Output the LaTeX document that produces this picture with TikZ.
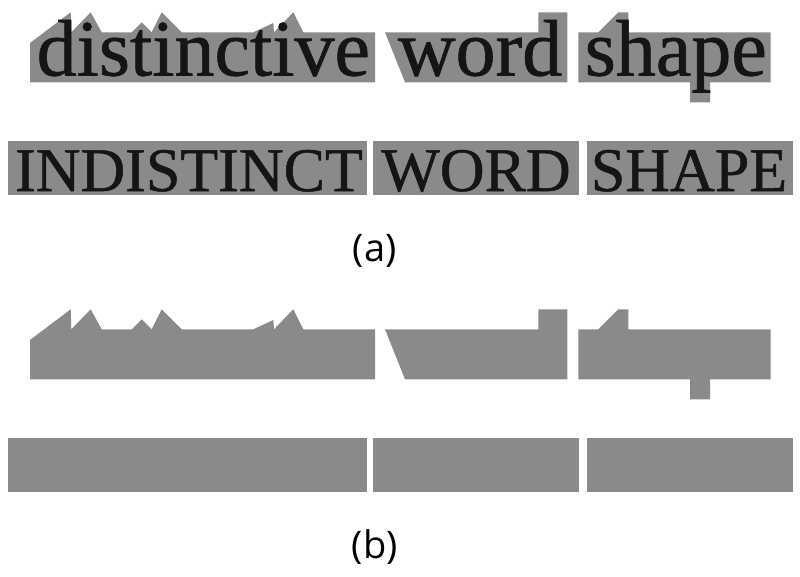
\documentclass[tikz,border=0pt]{standalone}
\usepackage{fontspec}
\setmainfont{Liberation Serif}
\newfontfamily\heavyserif{Liberation Serif}[FakeBold=0.8]
\newfontfamily\labfont{Open Sans}
\definecolor{shapegray}{HTML}{8A8A8A}
\definecolor{inkdark}{HTML}{151515}
\tikzset{
  shapefill/.style={fill=shapegray, draw=none},
  lowword/.style={inner sep=0pt, anchor=base, text=inkdark, font=\heavyserif\fontsize{80}{80}\selectfont},
  capword/.style={inner sep=0pt, anchor=base, text=inkdark, font=\heavyserif\fontsize{62}{62}\selectfont},
  panellabel/.style={inner sep=0pt, anchor=base, text=black, font=\labfont\fontsize{38}{38}\selectfont}
}
\begin{document}
\begin{tikzpicture}[x=1pt,y=-1pt]
\useasboundingbox (0,0) rectangle (800,576);
% ---------- word-shape silhouettes, panel (a) and copy in panel (b) ----------
\foreach \dy in {0,297}{
  \begin{scope}[shift={(0,\dy)}]
    % distinctive
    \fill[shapefill] (30,82.3) -- (30,43) -- (70.7,12.3) -- (71.3,32.3) -- (90.7,12.3) -- (101.7,32.3)
      -- (131.7,32.3) -- (141.7,22.3) -- (151.7,32.3) -- (161.7,12.3) -- (181.7,32.3)
      -- (253.3,32.3) -- (273.3,23) -- (274,32.3) -- (293.3,12.3) -- (303.3,32.3)
      -- (375,32.3) -- (375,82.3) -- cycle;
    % word
    \fill[shapefill] (385,32.3) -- (405,82.3) -- (567.3,82.3) -- (567.3,12.3) -- (538.3,12.3)
      -- (538.3,32.3) -- cycle;
    % shape
    \fill[shapefill] (578.3,32.3) -- (578.3,82.3) -- (690,82.3) -- (690,102.3) -- (710,102.3)
      -- (710,82.3) -- (770.7,82.3) -- (770.7,32.3) -- (628.3,32.3) -- (628.3,12.3)
      -- (618.3,12.3) -- (598.3,32.3) -- cycle;
    % capitals
    \fill[shapefill] (8.3,140.7) rectangle (366.7,194.7);
    \fill[shapefill] (373.3,140.7) rectangle (579.3,194.7);
    \fill[shapefill] (586.7,140.7) rectangle (792.7,194.7);
  \end{scope}
}
% ---------- texts ----------
\node[lowword] (t1) at (203.3,75.5) {distinctive};
\node[lowword] (t2) at (480,75.5) {word};
\node[lowword] (t3) at (675.8,75.5) {shape};
\node[capword] (c1) at (189,191) {INDISTINCT};
\node[capword] (c2) at (476,191) {WORD};
\node[capword] (c3) at (689,191) {SHAPE};
\node[panellabel] (la) at (374.8,261.7) {(a)};
\node[panellabel] (lb) at (374.8,558) {(b)};
\end{tikzpicture}
\end{document}
